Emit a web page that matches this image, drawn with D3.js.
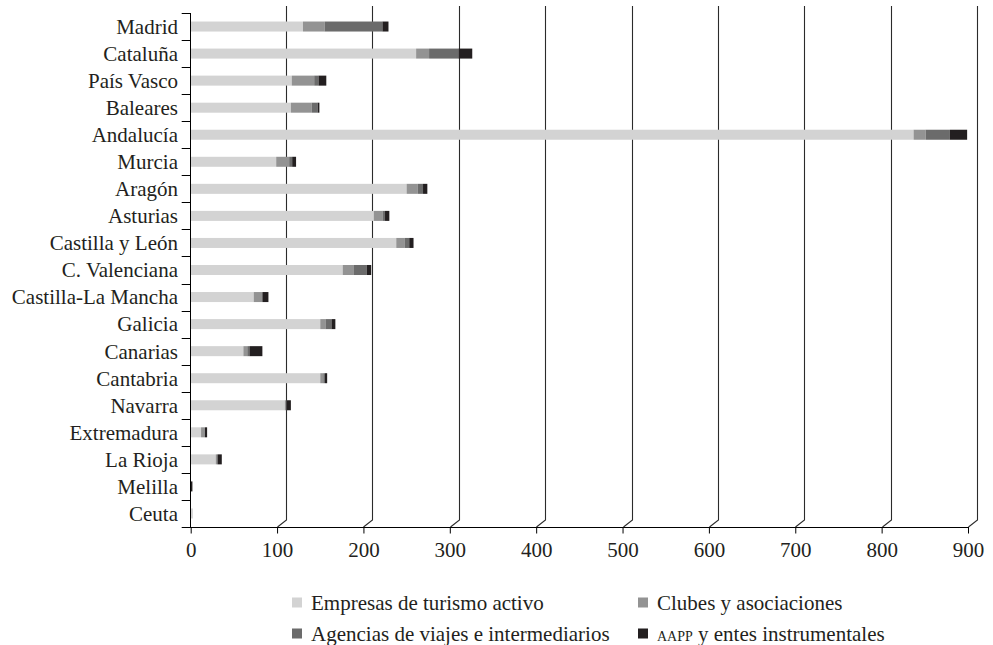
<!DOCTYPE html>
<html>
<head>
<meta charset="utf-8">
<script src="https://cdn.jsdelivr.net/npm/d3@7"></script>
<style>
  html, body { margin: 0; padding: 0; background: #fff; }
  svg { display: block; font-family: "Liberation Serif", "Times New Roman", serif; }
</style>
</head>
<body>
<svg id="chart" width="993" height="645"></svg>
<script>
// Entidades de turismo activo por comunidad autónoma
const regions = ["Madrid", "Cataluña", "País Vasco", "Baleares", "Andalucía", "Murcia", "Aragón",
  "Asturias", "Castilla y León", "C. Valenciana", "Castilla-La Mancha", "Galicia", "Canarias",
  "Cantabria", "Navarra", "Extremadura", "La Rioja", "Melilla", "Ceuta"];

const empresas = [130, 261, 117, 116, 837, 99, 250, 212, 238, 176, 73, 150, 61, 150, 109, 12, 29, 0, 2.5];
const clubes   = [25, 15, 26, 24, 14, 15, 13, 10, 10, 13, 10, 6, 4.5, 3.5, 2, 4.5, 2, 0, 0];
const agencias = [67, 34, 5, 7, 28, 3.5, 6, 3, 5, 15, 0, 7, 2.5, 2, 0, 0, 0, 0, 0];
const aapp     = [7, 16, 9, 2, 20, 4.5, 5, 5, 5, 5, 7, 4.5, 15, 2.5, 5, 2.5, 5, 2, 0];

const seriesNames = ["Empresas de turismo activo", "Clubes y asociaciones",
  "Agencias de viajes e intermediarios", "AAPP y entes instrumentales"];
const seriesKeys = ["empresas", "clubes", "agencias", "aapp"];
const colors = ["#d3d3d3", "#939393", "#6b6b6b", "#231f20"];
const xTicks = [0, 100, 200, 300, 400, 500, 600, 700, 800, 900];

(function draw() {
  const rows = regions.map((r, i) => ({
    region: r, empresas: empresas[i], clubes: clubes[i], agencias: agencias[i], aapp: aapp[i]
  }));

  const svg = d3.select("#chart");
  const plotLeft = 190.7, plotRight = 968, plotTop = 13, plotBottom = 527;
  const depth = { dx: 9, dy: -7 };   // offset of the back wall
  const fontSize = 21;

  const x = d3.scaleLinear().domain([0, 900]).range([plotLeft, plotRight]);
  const y = d3.scaleBand().domain(regions).range([plotTop, plotBottom])
    .paddingInner(0.63).paddingOuter(0.315);

  // Back-wall gridlines with their floor diagonals
  const grid = svg.append("g").attr("fill", "none").attr("stroke", "#2b2b2b").attr("stroke-width", 1.1);
  xTicks.filter(t => t > 0).forEach(t => {
    const px = Math.round(x(t)) + 0.5;
    grid.append("path").attr("d",
      `M${px},${plotBottom}L${px + depth.dx},${plotBottom + depth.dy}L${px + depth.dx},${plotTop + depth.dy}`);
  });

  // Stacked bars
  const stack = d3.stack().keys(seriesKeys)(rows);
  svg.append("g").selectAll("g").data(stack).join("g")
    .attr("fill", (d, i) => colors[i])
    .selectAll("rect").data(d => d).join("rect")
    .attr("x", d => x(d[0]))
    .attr("y", d => y(d.data.region))
    .attr("width", d => Math.max(0, x(d[1]) - x(d[0])))
    .attr("height", y.bandwidth());

  // Category axis: boundary ticks and labels
  const yAxis = svg.append("g");
  const step = y.step();
  const bounds = d3.range(regions.length + 1).map(i => plotTop + i * step);
  yAxis.append("line").attr("x1", Math.round(plotLeft) - 0.5).attr("x2", Math.round(plotLeft) - 0.5)
    .attr("y1", plotTop).attr("y2", plotBottom).attr("stroke", "#000");
  yAxis.selectAll("line.tick").data(bounds).join("line").attr("class", "tick")
    .attr("x1", plotLeft - 9).attr("x2", plotLeft)
    .attr("y1", d => Math.round(d) + 0.5).attr("y2", d => Math.round(d) + 0.5)
    .attr("stroke", "#000");
  yAxis.selectAll("text").data(regions).join("text")
    .attr("x", 178).attr("y", d => y(d) + y.bandwidth() / 2)
    .attr("dy", "0.35em").attr("text-anchor", "end")
    .attr("font-size", fontSize).attr("fill", "#231f20").text(d => d);

  // Value axis
  const xAxis = svg.append("g").attr("transform", `translate(0,${plotBottom + 0.5})`)
    .call(d3.axisBottom(x).tickValues(xTicks).tickSize(6).tickSizeOuter(0).tickPadding(9));
  xAxis.select(".domain").attr("d", `M${plotLeft - 8},0H${plotRight + 1}`).attr("stroke", "#000");
  xAxis.selectAll(".tick line").attr("stroke", "#000");
  xAxis.selectAll(".tick text").attr("font-family", "Liberation Serif, serif")
    .attr("font-size", fontSize).attr("fill", "#231f20");

  // Legend
  const legendPos = [[292, 603], [638, 603], [292, 634], [638, 634]];
  const legend = svg.append("g");
  seriesNames.forEach((name, i) => {
    const [lx, ly] = legendPos[i];
    legend.append("rect").attr("x", lx).attr("y", ly - 5.5).attr("width", 10).attr("height", 10)
      .attr("fill", colors[i]);
    const t = legend.append("text").attr("x", lx + 19).attr("y", ly).attr("dy", "0.35em")
      .attr("font-size", fontSize).attr("fill", "#231f20");
    if (name.startsWith("AAPP")) {
      t.append("tspan").attr("font-size", 14).text("AAPP");
      t.append("tspan").text(name.slice(4));
    } else {
      t.text(name);
    }
  });
})();
</script>
</body>
</html>
